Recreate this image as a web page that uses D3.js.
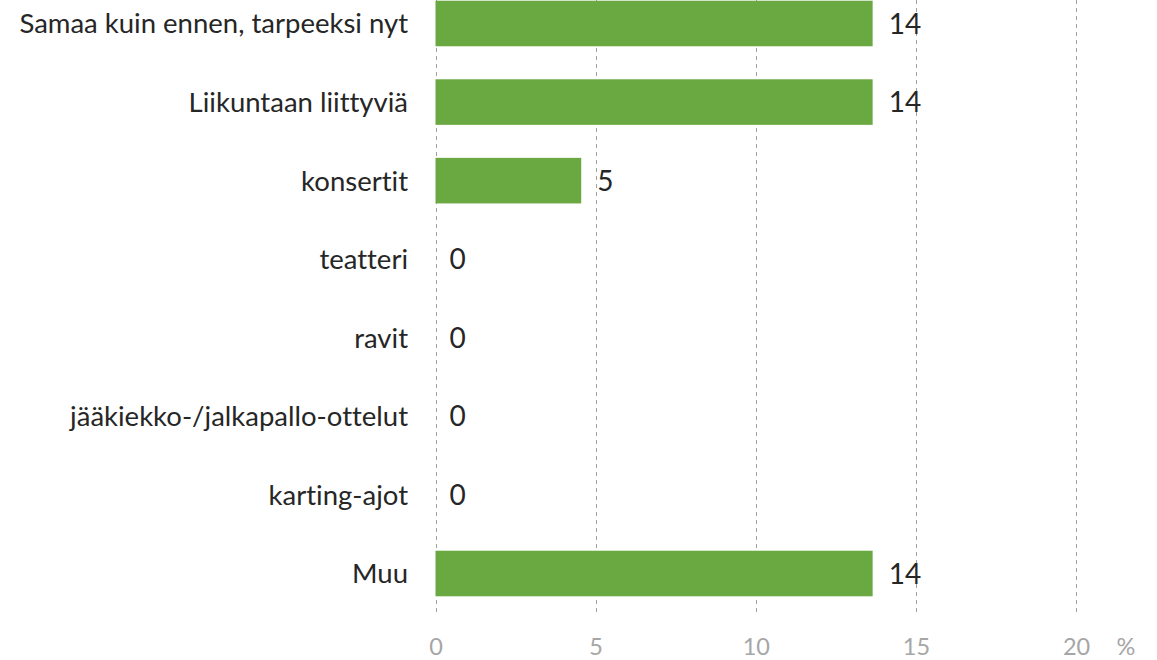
<!DOCTYPE html>
<html>
<head>
<meta charset="utf-8">
<script src="https://cdn.jsdelivr.net/npm/d3@7"></script>
<style>
  html, body { margin: 0; padding: 0; background: #fff; }
  svg { display: block; }
  text { font-family: Lato, "Open Sans", sans-serif; font-variant-ligatures: none; font-feature-settings: "liga" 0, "clig" 0; }
</style>
</head>
<body>
<svg id="chart" width="1157" height="660"></svg>
<script>
// Categories (top to bottom) and their shares in percent
const categories = [
  "Samaa kuin ennen, tarpeeksi nyt",
  "Liikuntaan liittyviä",
  "konsertit",
  "teatteri",
  "ravit",
  "jääkiekko-/jalkapallo-ottelut",
  "karting-ajot",
  "Muu"
];
const values = [13.65, 13.65, 4.55, 0, 0, 0, 0, 13.65];
const xTicks = [0, 5, 10, 15, 20];
const unitLabel = "%";

const svg = d3.select("#chart");

const x = d3.scaleLinear().domain([0, 20]).range([435.5, 1076]);
const y = d3.scaleBand()
  .domain(categories)
  .range([-15.8, 612.8])
  .paddingInner(0.42)
  .paddingOuter(0.21);

const data = categories.map((c, i) => ({ cat: c, val: values[i] }));

// Dashed vertical gridlines
svg.append("g").attr("class", "grid")
  .selectAll("line")
  .data(xTicks)
  .join("line")
  .attr("x1", d => Math.round(x(d)) + 0.5)
  .attr("x2", d => Math.round(x(d)) + 0.5)
  .attr("y1", 0)
  .attr("y2", 613)
  .attr("stroke", "#a0a0a0")
  .attr("stroke-width", 1)
  .attr("stroke-dasharray", "4,4");

// Bars
svg.append("g").selectAll("rect")
  .data(data)
  .join("rect")
  .attr("x", x(0))
  .attr("y", d => y(d.cat))
  .attr("width", d => x(d.val) - x(0))
  .attr("height", y.bandwidth())
  .attr("fill", "#6aa842");

// Value labels
const fmt = d3.format(".0f");
svg.append("g").selectAll("text")
  .data(data)
  .join("text")
  .attr("x", d => x(d.val) + (d.val > 0 ? 16 : 14))
  .attr("y", d => y(d.cat) + y.bandwidth() / 2)
  .attr("dy", "0.36em")
  .attr("font-size", 28)
  .attr("fill", "#262626")
  .text(d => fmt(d.val));

// Category axis (labels only)
const yg = svg.append("g")
  .attr("transform", "translate(408,0)")
  .call(d3.axisLeft(y).tickSize(0).tickPadding(0));
yg.select(".domain").remove();
yg.selectAll("text")
  .attr("dy", "0.36em")
  .attr("font-size", 27.5)
  .attr("fill", "#262626")
  .style("font-family", "Lato, 'Open Sans', sans-serif");

// Value axis (labels only)
const xg = svg.append("g")
  .attr("transform", "translate(0,647)")
  .call(d3.axisBottom(x).tickValues(xTicks).tickSize(0).tickPadding(0));
xg.select(".domain").remove();
xg.selectAll("text")
  .attr("y", 0)
  .attr("dy", "0.36em")
  .attr("font-size", 23.5)
  .attr("fill", "#a6a6a6")
  .style("font-family", "Lato, 'Open Sans', sans-serif");

svg.append("text")
  .attr("x", 1126)
  .attr("y", 647)
  .attr("dy", "0.36em")
  .attr("text-anchor", "middle")
  .attr("font-size", 23.5)
  .attr("fill", "#a6a6a6")
  .text(unitLabel);
</script>
</body>
</html>
